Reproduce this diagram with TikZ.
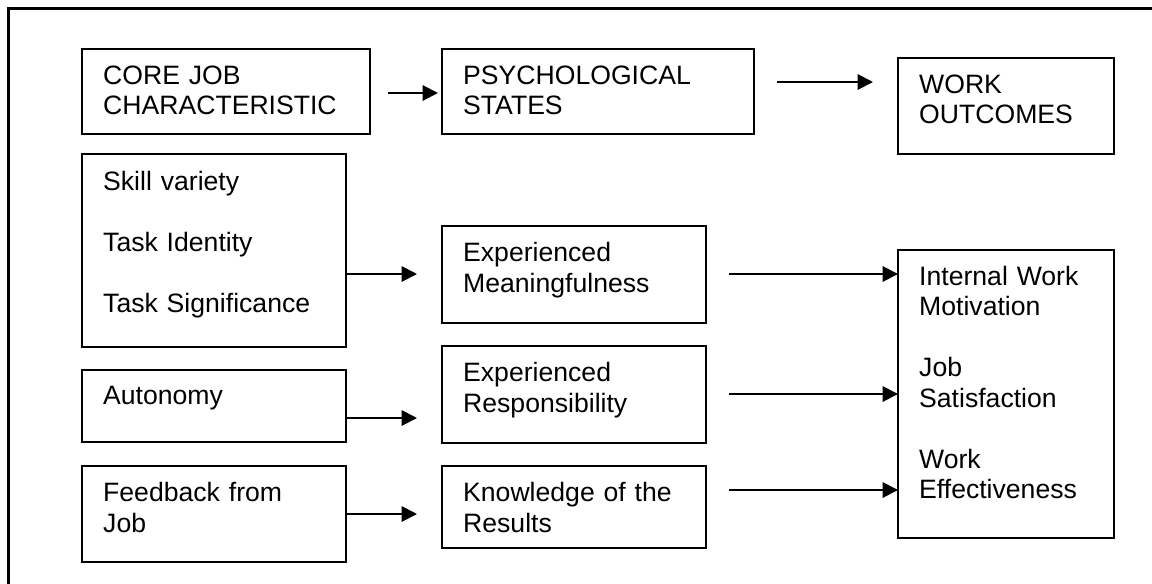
\documentclass[tikz,border=0pt]{standalone}
\usepackage{fontspec}
\setmainfont{Liberation Sans}
\usetikzlibrary{calc,arrows.meta}
\begin{document}
\begin{tikzpicture}[x=1pt,y=-1pt,
  box/.style={draw, line width=1.8pt, anchor=north west, inner sep=0pt, outer sep=0pt},
  txt/.style={anchor=base west, inner sep=0pt, text width=260pt, align=left, font=\fontsize{26.6}{30.5}\selectfont},
  arr/.style={line width=2pt, -{Triangle[length=15.5pt,width=15.5pt]}}]
\useasboundingbox (0,0) rectangle (1152,584);
\draw[line width=2.6pt] (8.5,584) -- (8.5,8.5) -- (1152,8.5);

% boxes
\node[box, minimum width=288pt, minimum height=85pt] (core) at (82,49) {};
\node[box, minimum width=312pt, minimum height=85pt] (psych) at (442,49) {};
\node[box, minimum width=216pt, minimum height=96pt] (work) at (898,58) {};
\node[box, minimum width=264pt, minimum height=193pt] (skill) at (82,154) {};
\node[box, minimum width=264pt, minimum height=72pt] (auton) at (82,370) {};
\node[box, minimum width=264pt, minimum height=96pt] (feed) at (82,466) {};
\node[box, minimum width=264pt, minimum height=97pt] (mean) at (442,226) {};
\node[box, minimum width=264pt, minimum height=97pt] (resp) at (442,346) {};
\node[box, minimum width=264pt, minimum height=82pt] (know) at (442,466) {};
\node[box, minimum width=216pt, minimum height=288pt] (out) at (898,250) {};

% texts
\node[txt] (coret) at ($(core.north west)+(21,35)$) {CORE JOB\\CHARACTERISTIC};
\node[txt] (psycht) at ($(psych.north west)+(21,35)$) {PSYCHOLOGICAL\\STATES};
\node[txt] (workt) at ($(work.north west)+(21,35)$) {WORK\\OUTCOMES};
\node[txt] (skillt) at ($(skill.north west)+(21,36)$) {Skill variety\\[30.5pt]Task Identity\\[30.5pt]Task Significance};
\node[txt] (autont) at ($(auton.north west)+(21,34.5)$) {Autonomy};
\node[txt] (feedt) at ($(feed.north west)+(21,35.5)$) {Feedback from\\Job};
\node[txt] (meant) at ($(mean.north west)+(21,35.5)$) {Experienced\\Meaningfulness};
\node[txt] (respt) at ($(resp.north west)+(21,35.5)$) {Experienced\\Responsibility};
\node[txt] (knowt) at ($(know.north west)+(21,35.5)$) {Knowledge of the\\Results};
\node[txt] (outt) at ($(out.north west)+(21,35)$) {Internal Work\\Motivation\\[30.5pt]Job\\Satisfaction\\[30.5pt]Work\\Effectiveness};

% arrows
\draw[arr] ($(core.north east)+(18,44)$) -- ($(psych.north west)+(-4,44)$);
\draw[arr] ($(psych.north east)+(23,33)$) -- ($(work.north west)+(-25,24)$);
\draw[arr] ($(skill.north east)+(0,120)$) -- ($(mean.north west)+(-25,48)$);
\draw[arr] ($(auton.north east)+(0,48)$) -- ($(resp.north west)+(-25,72)$);
\draw[arr] ($(feed.north east)+(0,48)$) -- ($(know.north west)+(-25,48)$);
\draw[arr] ($(mean.north east)+(23,48)$) -- ($(out.north west)+(0,24)$);
\draw[arr] ($(resp.north east)+(23,48)$) -- ($(out.north west)+(0,144)$);
\draw[arr] ($(know.north east)+(23,24)$) -- ($(out.north west)+(0,240)$);
\end{tikzpicture}
\end{document}
